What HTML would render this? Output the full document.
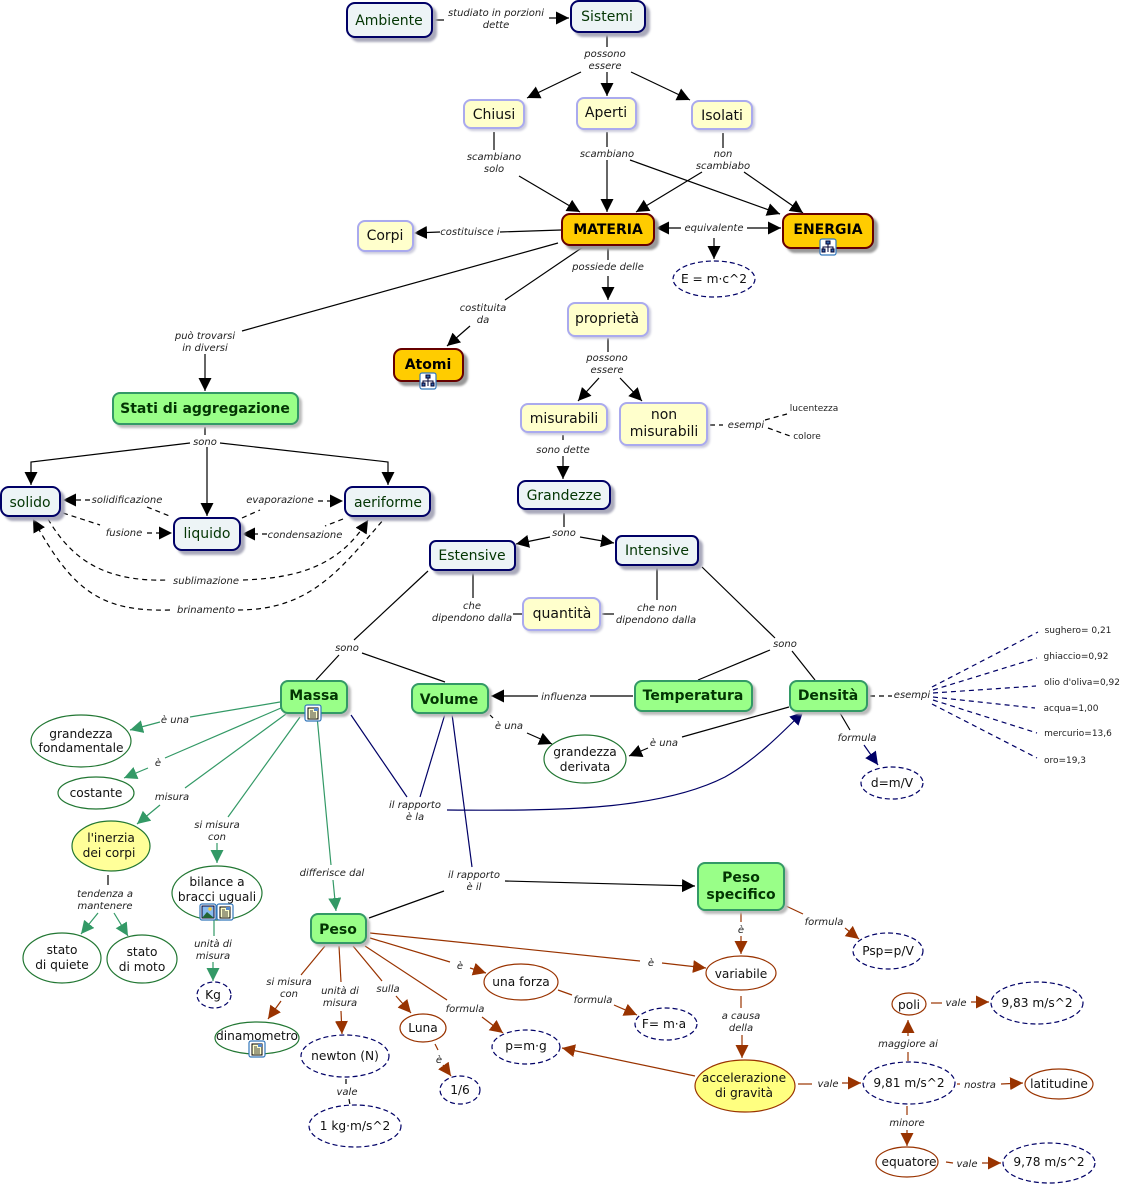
<!DOCTYPE html>
<html><head><meta charset="utf-8"><style>
html,body{margin:0;padding:0;background:#fff}
svg{display:block}
text{font-family:"DejaVu Sans","Liberation Sans",sans-serif;text-anchor:middle;fill:#111}
.n{font-size:14px}
.nb{font-size:14px;fill:#033503}
.b{font-size:14px;font-weight:bold;fill:#000}
.bg{font-size:14px;font-weight:bold;fill:#033503}
.l{font-size:10px;font-style:italic;fill:#222}
.s{font-size:9px;fill:#222}
.e{font-size:12.2px;fill:#111}
line,path.c,polyline{fill:none;stroke-width:1.2}
.k{stroke:#000}.g{stroke:#339966}.r{stroke:#993300}.v{stroke:#000066}
.d{stroke-dasharray:5 4}
.nv{fill:#edf4f6;stroke:#000066;stroke-width:2;filter:drop-shadow(4px 4px 1px #aaaabb)}
.ny{fill:#ffffcc;stroke:#aaaaee;stroke-width:2;filter:drop-shadow(2px 2px 1px #ccccdd)}
.no{fill:#ffcc00;stroke:#660000;stroke-width:2;filter:drop-shadow(4px 4px 1px #999999)}
.ngr{fill:#99ff88;stroke:#339966;stroke-width:2;filter:drop-shadow(3px 3px 1px #bbbbbb)}
.eg{fill:#fff;stroke:#227733;stroke-width:1.2}
.er{fill:#fff;stroke:#993300;stroke-width:1.2}
.ev{fill:#fff;stroke:#000066;stroke-width:1.2;stroke-dasharray:5 3}
</style></head><body>
<svg width="1128" height="1186" viewBox="0 0 1128 1186" xmlns="http://www.w3.org/2000/svg">
<defs>
<marker id="ak" markerUnits="userSpaceOnUse" markerWidth="14" markerHeight="14" refX="13" refY="6.5" orient="auto"><path d="M0,0 L13,6.5 L0,13 z" fill="#000"/></marker>
<marker id="ag" markerUnits="userSpaceOnUse" markerWidth="14" markerHeight="14" refX="13" refY="6.5" orient="auto"><path d="M0,0 L13,6.5 L0,13 z" fill="#339966"/></marker>
<marker id="ar" markerUnits="userSpaceOnUse" markerWidth="14" markerHeight="14" refX="13" refY="6.5" orient="auto"><path d="M0,0 L13,6.5 L0,13 z" fill="#993300"/></marker>
<marker id="av" markerUnits="userSpaceOnUse" markerWidth="14" markerHeight="14" refX="13" refY="6.5" orient="auto"><path d="M0,0 L13,6.5 L0,13 z" fill="#000066"/></marker>
<g id="ic1"><rect x="-8" y="-8" width="16" height="16" rx="2" fill="#fff" stroke="#3377bb" stroke-width="1.2"/><rect x="-5" y="-5" width="10" height="11" fill="#ffffcc" stroke="#000"/><path d="M-3,-2h3M-3,0h6M-3,2h6M-3,4h6" stroke="#000" stroke-width=".8"/><rect x="1" y="-5" width="4" height="3" fill="#5588cc"/></g>
<g id="ic2"><rect x="-8" y="-8" width="16" height="16" rx="2" fill="#fff" stroke="#3377bb" stroke-width="1.2"/><rect x="-2" y="-6" width="4" height="3" fill="#3366aa" stroke="#003"/><rect x="-6" y="2" width="3" height="3" fill="#3366aa" stroke="#003"/><rect x="3" y="2" width="3" height="3" fill="#3366aa" stroke="#003"/><path d="M0,-3V0M-5,2V0H5V2M0,0V5" stroke="#003" fill="none"/></g>
<g id="ic3"><rect x="-8" y="-8" width="16" height="16" rx="2" fill="#fff" stroke="#3377bb" stroke-width="1.2"/><rect x="-6" y="-6" width="12" height="12" fill="#88bbee" stroke="#003"/><path d="M-6,6 L-1,0 L6,6z" fill="#226633"/><circle cx="2" cy="-3" r="1.7" fill="#ffcc33"/></g>
</defs>

<!-- black connectors -->
<g class="k">
<line x1="434" y1="20" x2="444" y2="20"/><line x1="549" y1="18" x2="569" y2="18" marker-end="url(#ak)"/>
<line x1="607" y1="35" x2="607" y2="47"/>
<line x1="581" y1="72" x2="527" y2="98" marker-end="url(#ak)"/><line x1="607" y1="72" x2="607" y2="96" marker-end="url(#ak)"/><line x1="631" y1="72" x2="690" y2="100" marker-end="url(#ak)"/>
<line x1="494" y1="132" x2="494" y2="150"/><line x1="519" y1="176" x2="580" y2="212" marker-end="url(#ak)"/>
<line x1="607" y1="132" x2="607" y2="147"/><line x1="607" y1="160" x2="607" y2="212" marker-end="url(#ak)"/><line x1="630" y1="160" x2="780" y2="214" marker-end="url(#ak)"/>
<line x1="723" y1="133" x2="723" y2="148"/><line x1="702" y1="172" x2="636" y2="212" marker-end="url(#ak)"/><line x1="744" y1="172" x2="803" y2="213" marker-end="url(#ak)"/>
<line x1="561" y1="230" x2="500" y2="232"/><line x1="440" y1="232" x2="414" y2="233" marker-end="url(#ak)"/>
<line x1="681" y1="228" x2="656" y2="228" marker-end="url(#ak)"/><line x1="747" y1="228" x2="781" y2="228" marker-end="url(#ak)"/><line x1="714" y1="238" x2="714" y2="259" marker-end="url(#ak)"/>
<line x1="608" y1="247" x2="608" y2="260"/><line x1="608" y1="276" x2="608" y2="300" marker-end="url(#ak)"/>
<line x1="583" y1="247" x2="505" y2="300"/><line x1="470" y1="326" x2="447" y2="346" marker-end="url(#ak)"/>
<line x1="558" y1="243" x2="242" y2="331"/><line x1="205" y1="354" x2="205" y2="391" marker-end="url(#ak)"/>
<line x1="608" y1="338" x2="608" y2="352"/><line x1="599" y1="378" x2="578" y2="401" marker-end="url(#ak)"/><line x1="620" y1="378" x2="642" y2="401" marker-end="url(#ak)"/>
<line x1="563" y1="435" x2="563" y2="442" class="k d"/><line x1="563" y1="456" x2="563" y2="479" marker-end="url(#ak)"/>
<line x1="710" y1="425" x2="723" y2="425" class="k d"/><line x1="765" y1="420" x2="787" y2="414" class="k d"/><line x1="768" y1="428" x2="790" y2="436" class="k d"/>
<line x1="564" y1="513" x2="564" y2="527"/><line x1="550" y1="537" x2="516" y2="544" marker-end="url(#ak)"/><line x1="580" y1="537" x2="614" y2="543" marker-end="url(#ak)"/>
<line x1="473" y1="572" x2="473" y2="598"/><line x1="513" y1="614" x2="523" y2="614"/><line x1="602" y1="614" x2="614" y2="614"/><line x1="657" y1="600" x2="657" y2="567"/>
<line x1="428" y1="571" x2="354" y2="640"/><line x1="339" y1="655" x2="316" y2="680"/><line x1="362" y1="653" x2="445" y2="682"/>
<line x1="702" y1="567" x2="775" y2="638"/><line x1="770" y1="650" x2="698" y2="680"/><line x1="792" y1="651" x2="815" y2="680"/>
<line x1="205" y1="427" x2="205" y2="435"/>
<polyline points="190,443 31,462 31,485" marker-end="url(#ak)"/><line x1="207" y1="447" x2="207" y2="516" marker-end="url(#ak)"/><polyline points="220,443 388,462 388,485" marker-end="url(#ak)"/>
<line x1="369" y1="918" x2="444" y2="891"/><line x1="505" y1="881" x2="695" y2="886" marker-end="url(#ak)"/>
<line x1="633" y1="696" x2="590" y2="696"/><line x1="538" y1="696" x2="491" y2="696" marker-end="url(#ak)"/>
<line x1="490" y1="715" x2="493" y2="718" class="k d"/><line x1="527" y1="733" x2="552" y2="744" marker-end="url(#ak)"/>
<line x1="789" y1="707" x2="682" y2="737"/><line x1="648" y1="748" x2="629" y2="756" marker-end="url(#ak)"/>
<line x1="840" y1="713" x2="850" y2="730"/>
<line x1="108" y1="875" x2="108" y2="885"/>
<line x1="870" y1="696" x2="892" y2="696" class="k d"/>
</g>
<!-- dashed state changes -->
<g class="k">
<line x1="90" y1="500" x2="63" y2="500" class="k d" marker-end="url(#ak)"/><line x1="147" y1="507" x2="172" y2="517" class="k d"/>
<line x1="63" y1="513" x2="100" y2="525" class="k d"/><line x1="147" y1="533" x2="172" y2="533" class="k d" marker-end="url(#ak)"/>
<line x1="242" y1="518" x2="260" y2="510" class="k d"/><line x1="318" y1="501" x2="343" y2="501" class="k d" marker-end="url(#ak)"/>
<line x1="343" y1="519" x2="325" y2="526" class="k d"/><line x1="267" y1="534" x2="242" y2="534" class="k d" marker-end="url(#ak)"/>
<path class="c k d" d="M48,519 C72,560 105,582 168,580"/>
<path class="c k d" d="M243,580 C300,578 340,565 368,520" marker-end="url(#ak)"/>
<path class="c k d" d="M170,610 C100,612 72,590 33,519" marker-end="url(#ak)"/>
<path class="c k d" d="M238,610 C310,610 340,570 384,519"/>
</g>
<!-- green -->
<g class="g">
<line x1="280" y1="702" x2="190" y2="717"/><line x1="160" y1="722" x2="130" y2="730" marker-end="url(#ag)"/>
<line x1="281" y1="708" x2="165" y2="758"/><line x1="148" y1="768" x2="124" y2="778" marker-end="url(#ag)"/>
<line x1="286" y1="714" x2="185" y2="788"/><line x1="160" y1="805" x2="137" y2="824" marker-end="url(#ag)"/>
<line x1="300" y1="717" x2="228" y2="817"/><line x1="217" y1="843" x2="217" y2="863" marker-end="url(#ag)"/>
<line x1="317" y1="716" x2="331" y2="865"/><line x1="333" y1="880" x2="336" y2="911" marker-end="url(#ag)"/>
<line x1="98" y1="913" x2="81" y2="934" marker-end="url(#ag)"/><line x1="114" y1="913" x2="128" y2="936" marker-end="url(#ag)"/>
<line x1="214" y1="920" x2="214" y2="936"/><line x1="213" y1="962" x2="213" y2="981" marker-end="url(#ag)"/>
</g>
<!-- navy -->
<g class="v">
<line x1="351" y1="715" x2="407" y2="797"/><line x1="445" y1="714" x2="420" y2="797"/>
<line x1="452" y1="714" x2="472" y2="867"/>
<path class="c v" d="M447,810 C560,811 660,810 725,777 C755,760 780,735 803,712" marker-end="url(#av)"/>
<line x1="864" y1="745" x2="878" y2="765" marker-end="url(#av)"/>
<g class="d"><line x1="932" y1="687" x2="1038" y2="632"/><line x1="933" y1="690" x2="1037" y2="658"/><line x1="933" y1="693" x2="1036" y2="686"/><line x1="933" y1="697" x2="1035" y2="708"/><line x1="933" y1="700" x2="1037" y2="733"/><line x1="932" y1="704" x2="1037" y2="758"/></g>
<line x1="346" y1="1079" x2="346" y2="1085" class="k d"/><line x1="349" y1="1099" x2="350" y2="1105" class="k d"/>
</g>
<!-- brown -->
<g class="r">
<line x1="325" y1="946" x2="301" y2="975"/><line x1="281" y1="1001" x2="268" y2="1019" marker-end="url(#ar)"/>
<line x1="339" y1="946" x2="341" y2="982"/><line x1="341" y1="1011" x2="342" y2="1034" marker-end="url(#ar)"/>
<line x1="353" y1="946" x2="382" y2="981"/><line x1="396" y1="996" x2="411" y2="1013" marker-end="url(#ar)"/>
<line x1="365" y1="946" x2="447" y2="1000"/><line x1="482" y1="1017" x2="503" y2="1033" marker-end="url(#ar)"/>
<line x1="370" y1="938" x2="450" y2="962"/><line x1="470" y1="968" x2="486" y2="973" marker-end="url(#ar)"/>
<line x1="370" y1="933" x2="640" y2="961"/><line x1="662" y1="963" x2="706" y2="968" marker-end="url(#ar)"/>
<line x1="558" y1="990" x2="572" y2="995"/><line x1="614" y1="1005" x2="637" y2="1015" marker-end="url(#ar)"/>
<line x1="741" y1="912" x2="741" y2="922"/><line x1="741" y1="936" x2="741" y2="954" marker-end="url(#ar)"/>
<line x1="786" y1="906" x2="803" y2="914"/><line x1="845" y1="928" x2="859" y2="939" marker-end="url(#ar)"/>
<line x1="741" y1="996" x2="741" y2="1008"/><line x1="742" y1="1035" x2="742" y2="1058" marker-end="url(#ar)"/>
<line x1="695" y1="1076" x2="562" y2="1048" marker-end="url(#ar)"/>
<line x1="798" y1="1084" x2="812" y2="1084"/><line x1="842" y1="1083" x2="861" y2="1083" marker-end="url(#ar)"/>
<line x1="908" y1="1061" x2="908" y2="1052"/><line x1="908" y1="1036" x2="908" y2="1020" marker-end="url(#ar)"/>
<line x1="957" y1="1084" x2="960" y2="1084"/><line x1="1001" y1="1084" x2="1023" y2="1083" marker-end="url(#ar)"/>
<line x1="907" y1="1106" x2="907" y2="1115"/><line x1="907" y1="1130" x2="907" y2="1146" marker-end="url(#ar)"/>
<line x1="931" y1="1003" x2="942" y2="1003"/><line x1="971" y1="1002" x2="989" y2="1002" marker-end="url(#ar)"/>
<line x1="946" y1="1162" x2="953" y2="1163"/><line x1="982" y1="1163" x2="1001" y2="1163" marker-end="url(#ar)"/>
<line x1="435" y1="1044" x2="438" y2="1050"/><line x1="443" y1="1065" x2="451" y2="1076" marker-end="url(#ar)"/>
</g>

<!-- rectangular nodes -->
<g>
<rect class="nv" x="347" y="3" width="85" height="34" rx="8"/>
<rect class="nv" x="571" y="1" width="74" height="31" rx="8"/>
<rect class="nv" x="1" y="487" width="59" height="29" rx="8"/>
<rect class="nv" x="174" y="518" width="66" height="32" rx="8"/>
<rect class="nv" x="345" y="487" width="85" height="29" rx="8"/>
<rect class="nv" x="518" y="481" width="92" height="28" rx="8"/>
<rect class="nv" x="430" y="541" width="85" height="29" rx="6"/>
<rect class="nv" x="616" y="536" width="82" height="29" rx="6"/>
<rect class="ny" x="464" y="100" width="60" height="28" rx="7"/>
<rect class="ny" x="577" y="98" width="59" height="31" rx="7"/>
<rect class="ny" x="692" y="101" width="60" height="28" rx="7"/>
<rect class="ny" x="358" y="221" width="55" height="30" rx="7"/>
<rect class="ny" x="568" y="303" width="80" height="33" rx="7"/>
<rect class="ny" x="521" y="404" width="86" height="28" rx="7"/>
<rect class="ny" x="620" y="403" width="87" height="42" rx="7"/>
<rect class="ny" x="523" y="598" width="77" height="32" rx="7"/>
<rect class="no" x="562" y="214" width="92" height="31" rx="8"/>
<rect class="no" x="783" y="214" width="90" height="34" rx="8"/>
<rect class="no" x="394" y="349" width="69" height="32" rx="8"/>
<rect class="ngr" x="113" y="393" width="185" height="31" rx="7"/>
<rect class="ngr" x="281" y="681" width="66" height="32" rx="7"/>
<rect class="ngr" x="412" y="684" width="76" height="29" rx="7"/>
<rect class="ngr" x="635" y="681" width="117" height="30" rx="7"/>
<rect class="ngr" x="790" y="681" width="77" height="30" rx="7"/>
<rect class="ngr" x="311" y="914" width="55" height="29" rx="7"/>
<rect class="ngr" x="698" y="863" width="86" height="47" rx="7"/>
</g>
<!-- ellipses -->
<g>
<ellipse class="ev" cx="714" cy="279" rx="41" ry="18"/>
<ellipse class="eg" cx="81" cy="741" rx="50" ry="26"/>
<ellipse class="eg" cx="96" cy="793" rx="38" ry="16"/>
<ellipse class="eg" cx="111" cy="846" rx="39" ry="25" style="fill:#ffff99"/>
<ellipse class="eg" cx="62" cy="958" rx="39" ry="25"/>
<ellipse class="eg" cx="142" cy="959" rx="35" ry="24"/>
<ellipse class="eg" cx="217" cy="893" rx="45" ry="27"/>
<ellipse class="ev" cx="214" cy="995" rx="17" ry="13"/>
<ellipse class="eg" cx="257" cy="1038" rx="42" ry="16"/>
<ellipse class="ev" cx="345" cy="1056" rx="44" ry="21"/>
<ellipse class="ev" cx="355" cy="1126" rx="46" ry="21"/>
<ellipse class="er" cx="423" cy="1028" rx="23" ry="14"/>
<ellipse class="ev" cx="460" cy="1090" rx="20" ry="14"/>
<ellipse class="er" cx="521" cy="982" rx="37" ry="18"/>
<ellipse class="ev" cx="526" cy="1047" rx="34" ry="17"/>
<ellipse class="ev" cx="666" cy="1024" rx="31" ry="16"/>
<ellipse class="er" cx="741" cy="973" rx="35" ry="17"/>
<ellipse class="ev" cx="888" cy="951" rx="35" ry="18"/>
<ellipse class="er" cx="745" cy="1086" rx="50" ry="26" style="fill:#ffff80"/>
<ellipse class="ev" cx="909" cy="1083" rx="46" ry="21"/>
<ellipse class="er" cx="909" cy="1004" rx="17" ry="11"/>
<ellipse class="ev" cx="1037" cy="1003" rx="46" ry="21"/>
<ellipse class="er" cx="1059" cy="1084" rx="34" ry="15"/>
<ellipse class="er" cx="907" cy="1162" rx="31" ry="15"/>
<ellipse class="ev" cx="1049" cy="1163" rx="46" ry="20"/>
<ellipse class="eg" cx="585" cy="759" rx="41" ry="24"/>
<ellipse class="ev" cx="892" cy="783" rx="31" ry="16"/>
</g>
<!-- icons -->
<use href="#ic1" x="313" y="713"/><use href="#ic2" x="828" y="247"/><use href="#ic2" x="428" y="381"/>
<use href="#ic3" x="208" y="912"/><use href="#ic1" x="225" y="912"/><use href="#ic1" x="257" y="1049"/>

<!-- node text -->
<text class="nb" x="389" y="25">Ambiente</text>
<text class="nb" x="607" y="21">Sistemi</text>
<text class="nb" x="30" y="507">solido</text>
<text class="nb" x="207" y="538">liquido</text>
<text class="nb" x="388" y="507">aeriforme</text>
<text class="nb" x="564" y="500">Grandezze</text>
<text class="nb" x="472" y="560">Estensive</text>
<text class="nb" x="657" y="555">Intensive</text>
<text class="n" x="494" y="119">Chiusi</text>
<text class="n" x="606" y="117">Aperti</text>
<text class="n" x="722" y="120">Isolati</text>
<text class="n" x="385" y="240">Corpi</text>
<text class="n" x="607" y="323">proprietà</text>
<text class="n" x="564" y="423">misurabili</text>
<text class="n" x="664" y="419">non</text><text class="n" x="664" y="436">misurabili</text>
<text class="n" x="562" y="618">quantità</text>
<text class="b" x="608" y="234">MATERIA</text>
<text class="b" x="828" y="234">ENERGIA</text>
<text class="b" x="428" y="369">Atomi</text>
<text class="bg" x="205" y="413">Stati di aggregazione</text>
<text class="bg" x="314" y="700">Massa</text>
<text class="bg" x="449" y="704">Volume</text>
<text class="bg" x="693" y="700">Temperatura</text>
<text class="bg" x="828" y="700">Densità</text>
<text class="bg" x="338" y="934">Peso</text>
<text class="bg" x="741" y="882">Peso</text><text class="bg" x="741" y="899">specifico</text>

<!-- ellipse text -->
<text class="e" x="714" y="283">E = m·c^2</text>
<text class="e" x="81" y="738">grandezza</text><text class="e" x="81" y="752">fondamentale</text>
<text class="e" x="96" y="797">costante</text>
<text class="e" x="111" y="842">l'inerzia</text><text class="e" x="109" y="857">dei corpi</text>
<text class="e" x="62" y="954">stato</text><text class="e" x="62" y="969">di quiete</text>
<text class="e" x="142" y="956">stato</text><text class="e" x="142" y="971">di moto</text>
<text class="e" x="217" y="886">bilance a</text><text class="e" x="217" y="901">bracci uguali</text>
<text class="e" x="213" y="999">Kg</text>
<text class="e" x="257" y="1040">dinamometro</text>
<text class="e" x="345" y="1060">newton (N)</text>
<text class="e" x="355" y="1130">1 kg·m/s^2</text>
<text class="e" x="423" y="1032">Luna</text>
<text class="e" x="460" y="1094">1/6</text>
<text class="e" x="521" y="986">una forza</text>
<text class="e" x="526" y="1050">p=m·g</text>
<text class="e" x="664" y="1028">F= m·a</text>
<text class="e" x="741" y="978">variabile</text>
<text class="e" x="888" y="955">Psp=p/V</text>
<text class="e" x="744" y="1082">accelerazione</text><text class="e" x="744" y="1097">di gravità</text>
<text class="e" x="909" y="1087">9,81 m/s^2</text>
<text class="e" x="909" y="1009">poli</text>
<text class="e" x="1037" y="1007">9,83 m/s^2</text>
<text class="e" x="1059" y="1088">latitudine</text>
<text class="e" x="909" y="1166">equatore</text>
<text class="e" x="1049" y="1166">9,78 m/s^2</text>
<text class="e" x="585" y="756">grandezza</text><text class="e" x="585" y="771">derivata</text>
<text class="e" x="892" y="787">d=m/V</text>

<!-- link labels -->
<g class="l">
<text class="l" x="496" y="16">studiato in porzioni</text><text class="l" x="496" y="28">dette</text>
<text class="l" x="605" y="57">possono</text><text class="l" x="605" y="69">essere</text>
<text class="l" x="494" y="160">scambiano</text><text class="l" x="494" y="172">solo</text>
<text class="l" x="607" y="157">scambiano</text>
<text class="l" x="723" y="157">non</text><text class="l" x="723" y="169">scambiabo</text>
<text class="l" x="470" y="235">costituisce i</text>
<text class="l" x="714" y="231">equivalente</text>
<text class="l" x="608" y="270">possiede delle</text>
<text class="l" x="483" y="311">costituita</text><text class="l" x="483" y="323">da</text>
<text class="l" x="205" y="339">può trovarsi</text><text class="l" x="205" y="351">in diversi</text>
<text class="l" x="607" y="361">possono</text><text class="l" x="607" y="373">essere</text>
<text class="l" x="563" y="453">sono dette</text>
<text class="l" x="746" y="428">esempi</text>
<text class="l" x="564" y="536">sono</text>
<text class="l" x="472" y="609">che</text><text class="l" x="472" y="621">dipendono dalla</text>
<text class="l" x="657" y="611">che non</text><text class="l" x="656" y="623">dipendono dalla</text>
<text class="l" x="347" y="651">sono</text>
<text class="l" x="785" y="647">sono</text>
<text class="l" x="205" y="445">sono</text>
<text class="l" x="127" y="503">solidificazione</text>
<text class="l" x="124" y="536">fusione</text>
<text class="l" x="280" y="503">evaporazione</text>
<text class="l" x="305" y="538">condensazione</text>
<text class="l" x="206" y="584">sublimazione</text>
<text class="l" x="206" y="613">brinamento</text>
<text class="l" x="175" y="723">è una</text>
<text class="l" x="158" y="766">è</text>
<text class="l" x="172" y="800">misura</text>
<text class="l" x="217" y="828">si misura</text><text class="l" x="217" y="840">con</text>
<text class="l" x="332" y="876">differisce dal</text>
<text class="l" x="105" y="897">tendenza a</text><text class="l" x="105" y="909">mantenere</text>
<text class="l" x="213" y="947">unità di</text><text class="l" x="213" y="959">misura</text>
<text class="l" x="415" y="808">il rapporto</text><text class="l" x="415" y="820">è la</text>
<text class="l" x="474" y="878">il rapporto</text><text class="l" x="474" y="890">è il</text>
<text class="l" x="564" y="700">influenza</text>
<text class="l" x="509" y="729">è una</text>
<text class="l" x="664" y="746">è una</text>
<text class="l" x="857" y="741">formula</text>
<text class="l" x="912" y="698">esempi</text>
<text class="l" x="289" y="985">si misura</text><text class="l" x="289" y="997">con</text>
<text class="l" x="340" y="994">unità di</text><text class="l" x="340" y="1006">misura</text>
<text class="l" x="388" y="992">sulla</text>
<text class="l" x="465" y="1012">formula</text>
<text class="l" x="460" y="969">è</text>
<text class="l" x="651" y="966">è</text>
<text class="l" x="593" y="1003">formula</text>
<text class="l" x="741" y="933">è</text>
<text class="l" x="824" y="925">formula</text>
<text class="l" x="741" y="1019">a causa</text><text class="l" x="741" y="1031">della</text>
<text class="l" x="828" y="1087">vale</text>
<text class="l" x="908" y="1047">maggiore ai</text>
<text class="l" x="980" y="1088">nostra</text>
<text class="l" x="907" y="1126">minore</text>
<text class="l" x="956" y="1006">vale</text>
<text class="l" x="967" y="1167">vale</text>
<text class="l" x="347" y="1095">vale</text>
<text class="l" x="439" y="1063">è</text>
</g>
<!-- small value labels -->
<text class="s" x="814" y="411">lucentezza</text>
<text class="s" x="807" y="439">colore</text>
<text class="s" x="1078" y="633">sughero= 0,21</text>
<text class="s" x="1076" y="659">ghiaccio=0,92</text>
<text class="s" x="1082" y="685">olio d'oliva=0,92</text>
<text class="s" x="1071" y="711">acqua=1,00</text>
<text class="s" x="1078" y="736">mercurio=13,6</text>
<text class="s" x="1065" y="763">oro=19,3</text>
</svg>
</body></html>
